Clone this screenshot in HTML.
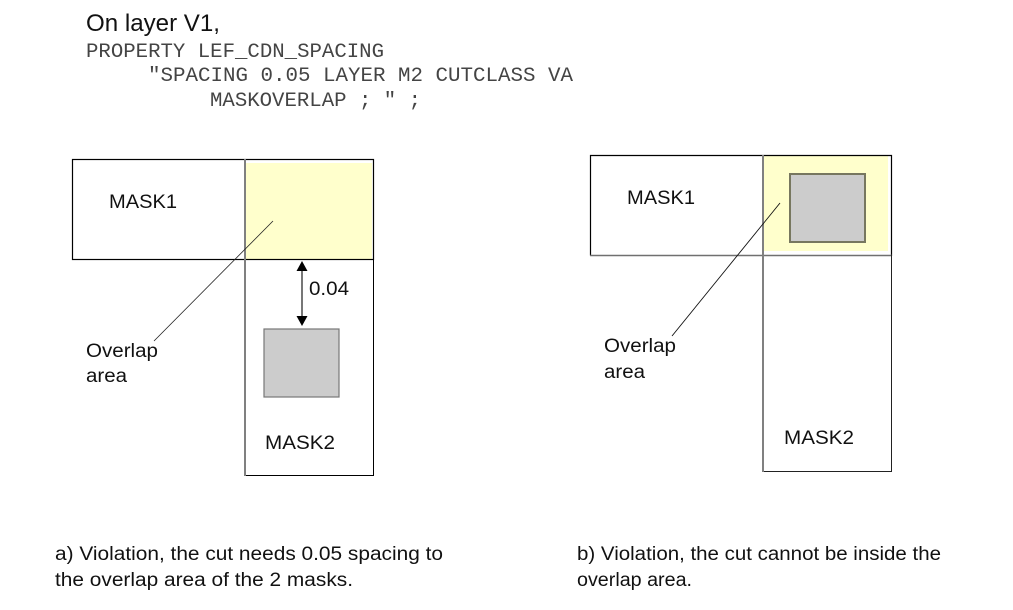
<!DOCTYPE html>
<html>
<head>
<meta charset="utf-8">
<style>
html,body{margin:0;padding:0;background:#fff;width:1013px;height:610px;overflow:hidden}
svg{display:block}
text{font-family:"Liberation Sans",Arial,sans-serif;font-size:19px;fill:#111}
.m{font-family:"Liberation Mono",monospace;font-size:20.6px;fill:#444}
</style>
</head>
<body>
<svg width="1013" height="610" viewBox="0 0 1013 610" xmlns="http://www.w3.org/2000/svg">
<text x="86" y="31" style="font-size:24px" textLength="134" lengthAdjust="spacingAndGlyphs">On layer V1,</text>
<text class="m" x="86" y="57" textLength="298" lengthAdjust="spacingAndGlyphs">PROPERTY LEF_CDN_SPACING</text>
<text class="m" x="148" y="81" textLength="425" lengthAdjust="spacingAndGlyphs">"SPACING 0.05 LAYER M2 CUTCLASS VA</text>
<text class="m" x="210" y="106" textLength="211" lengthAdjust="spacingAndGlyphs">MASKOVERLAP ; " ;</text>

<!-- Left diagram -->
<rect x="246" y="163" width="126" height="96" fill="#ffffcc"/>
<rect x="72.5" y="159.5" width="301" height="100" fill="none" stroke="#000" stroke-width="1.2"/>
<path d="M373.5 259V475.5H245" fill="none" stroke="#000" stroke-width="1"/>
<line x1="245" y1="159" x2="245" y2="476" stroke="#808080" stroke-width="2"/>
<rect x="264" y="329" width="75" height="68" fill="#cccccc" stroke="#777" stroke-width="1.2"/>
<line x1="302" y1="268" x2="302" y2="320" stroke="#777" stroke-width="2"/>
<polygon points="302,261 296.5,271 307.5,271" fill="#000"/>
<polygon points="302,326 296.5,316 307.5,316" fill="#000"/>
<line x1="273" y1="221" x2="154" y2="341" stroke="#222" stroke-width="0.8"/>
<text x="109" y="208" textLength="68" lengthAdjust="spacingAndGlyphs">MASK1</text>
<text x="309" y="295" textLength="40" lengthAdjust="spacingAndGlyphs">0.04</text>
<text x="86" y="357" textLength="72" lengthAdjust="spacingAndGlyphs">Overlap</text>
<text x="86" y="382" textLength="41" lengthAdjust="spacingAndGlyphs">area</text>
<text x="265" y="449" textLength="70" lengthAdjust="spacingAndGlyphs">MASK2</text>

<!-- Right diagram -->
<rect x="764" y="156" width="124" height="95" fill="#ffffcc"/>
<path d="M590.5 255.5V155.5H891.5V256" fill="none" stroke="#000" stroke-width="1.2"/>
<line x1="590" y1="255.5" x2="892" y2="255.5" stroke="#707070" stroke-width="1.6"/>
<path d="M891.5 255V471.5H763" fill="none" stroke="#222" stroke-width="1"/>
<line x1="763" y1="155" x2="763" y2="472" stroke="#808080" stroke-width="2"/>
<rect x="790" y="174" width="75" height="68" fill="#cccccc" stroke="#77775f" stroke-width="2"/>
<line x1="780" y1="203" x2="672" y2="336" stroke="#111" stroke-width="0.9"/>
<text x="627" y="204" textLength="68" lengthAdjust="spacingAndGlyphs">MASK1</text>
<text x="604" y="352" textLength="72" lengthAdjust="spacingAndGlyphs">Overlap</text>
<text x="604" y="378" textLength="41" lengthAdjust="spacingAndGlyphs">area</text>
<text x="784" y="444" textLength="70" lengthAdjust="spacingAndGlyphs">MASK2</text>

<!-- Captions -->
<text x="55" y="560" textLength="388" lengthAdjust="spacingAndGlyphs">a) Violation, the cut needs 0.05 spacing to</text>
<text x="55" y="586" textLength="298" lengthAdjust="spacingAndGlyphs">the overlap area of the 2 masks.</text>
<text x="577" y="560" textLength="364" lengthAdjust="spacingAndGlyphs">b) Violation, the cut cannot be inside the</text>
<text x="577" y="586" textLength="115" lengthAdjust="spacingAndGlyphs">overlap area.</text>
</svg>
</body>
</html>
